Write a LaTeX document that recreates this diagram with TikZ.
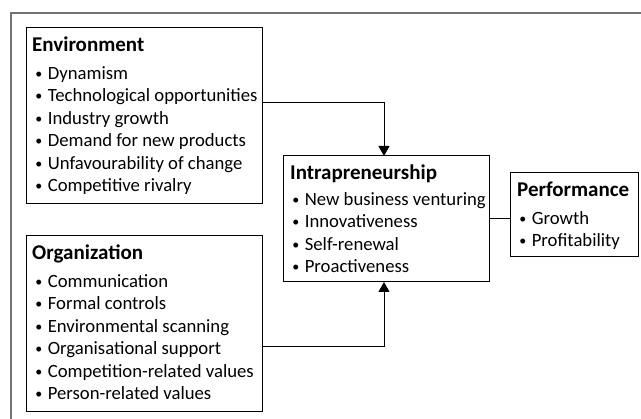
\documentclass[tikz,border=0pt]{standalone}
\usepackage{fontspec}
\setmainfont{Carlito}
\usetikzlibrary{arrows.meta}
\newcommand\mybul{\makebox[9.4pt][c]{\raisebox{1pt}{\fontsize{14}{14}\selectfont •}}\ }
\begin{document}
\begin{tikzpicture}[x=1pt,y=-1pt,
  box/.style={draw=black, line width=1pt, anchor=north west, inner sep=0pt, outer sep=0pt},
  head/.style={anchor=base west, inner sep=0pt, font=\fontsize{21}{25}\selectfont\bfseries},
  item/.style={anchor=base west, inner sep=0pt, font=\fontsize{18.7}{22}\selectfont},
  conn/.style={line width=1pt, draw=black},
  tip/.style={-{Triangle[length=10pt,width=11pt]}}]
\useasboundingbox (0,0) rectangle (641,419);
% outer frame (cropped)
\draw[black!55, line width=1.2pt] (11,419) -- (11,13) -- (641,13);

% boxes
\node[box, minimum width=236pt, minimum height=176pt] (env) at (26,28) {};
\node[box, minimum width=236pt, minimum height=176pt] (org) at (26,236) {};
\node[box, minimum width=206pt, minimum height=126pt] (intra) at (283,156) {};
\node[box, minimum width=128pt, minimum height=84pt] (perf) at (510,173) {};

% Environment
\node[head] (envh) at (32,52) {Environment};
\foreach \t [count=\i] in {Dynamism, Technological opportunities, Industry growth, Demand for new products, Unfavourability of change, Competitive rivalry}
  \node[item] (env\i) at (34,{79.5+22.4*(\i-1)}) {\mybul\t};

% Organization
\node[head] (orgh) at (32,260) {Organization};
\foreach \t [count=\i] in {Communication, Formal controls, Environmental scanning, Organisational support, Competition-related values, Person-related values}
  \node[item] (org\i) at (34,{287.5+22.4*(\i-1)}) {\mybul\t};

% Intrapreneurship
\node[head] (intrah) at (290,180) {Intrapreneurship};
\foreach \t [count=\i] in {New business venturing, Innovativeness, Self-renewal, Proactiveness}
  \node[item] (intra\i) at (291,{205.5+22.5*(\i-1)}) {\mybul\t};

% Performance
\node[head] (perfh) at (517,197) {Performance};
\foreach \t [count=\i] in {Growth, Profitability}
  \node[item] (perf\i) at (518,{224.5+22*(\i-1)}) {\mybul\t};

% connectors
\draw[conn, tip] ([yshift=13pt]env.east) -| ([xshift=-2pt]intra.north);
\draw[conn, tip] ([yshift=-23pt]org.east) -| ([xshift=-2pt]intra.south);
\draw[conn] (intra.east) -- (intra.east -| perf.west);
\end{tikzpicture}
\end{document}
